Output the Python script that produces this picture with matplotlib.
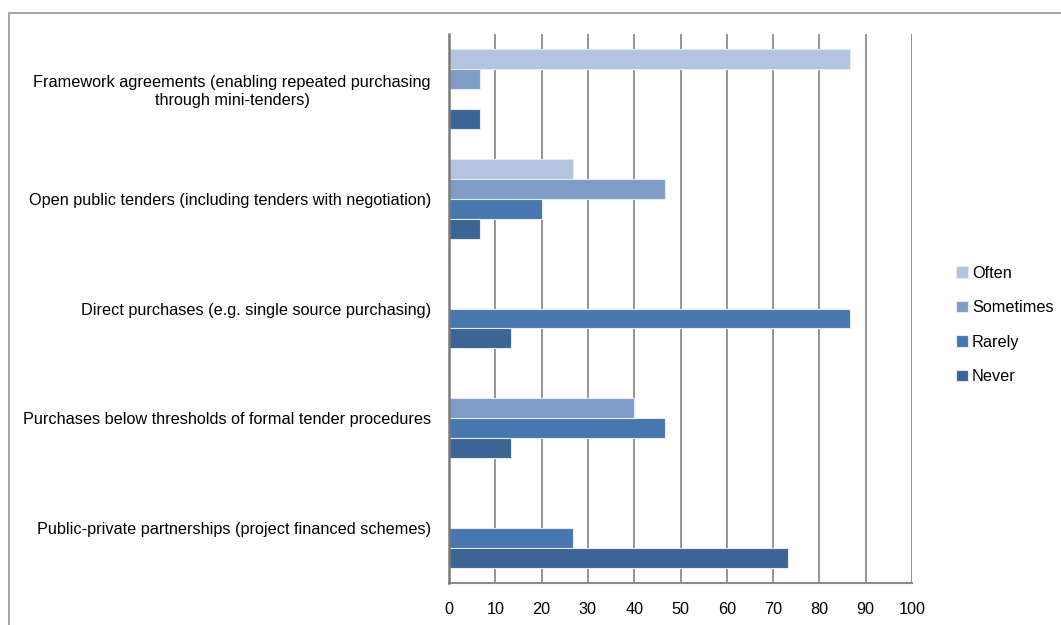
import numpy as np
import matplotlib
matplotlib.use("Agg")
import matplotlib.pyplot as plt
from matplotlib.patches import Rectangle

plt.rcParams['font.family'] = ['Liberation Sans', 'DejaVu Sans']

categories = [
    "Framework agreements (enabling repeated purchasing\nthrough mini-tenders)",
    "Open public tenders (including tenders with negotiation)",
    "Direct purchases (e.g. single source purchasing)",
    "Purchases below thresholds of formal tender procedures",
    "Public-private partnerships (project financed schemes)",
]
series = ["Often", "Sometimes", "Rarely", "Never"]
often = [86.7, 26.7, 0, 0, 0]
sometimes = [6.7, 46.7, 0, 40.0, 0]
rarely = [0, 20.0, 86.7, 46.7, 26.7]
never = [6.7, 6.7, 13.3, 13.3, 73.3]
values = [often, sometimes, rarely, never]
colors = ["#b4c3de", "#7f9cc7", "#4877b0", "#3c6494"]

fig = plt.figure(figsize=(10.61, 6.25), dpi=100)
ax = fig.add_axes([0.4232, 0.0672, 0.4364, 0.8784])

y = np.arange(len(categories))
h = 0.182
for i, (name, vals, c) in enumerate(zip(series, values, colors)):
    ax.barh(y + (i - 1.5) * h, vals, height=h, color=c, label=name,
            edgecolor="#e4e9f2", linewidth=0.8, zorder=3)

ax.set_xlim(0, 100)
ax.set_ylim(len(categories) - 0.5, -0.5)
ax.set_xticks(range(0, 101, 10))
ax.set_yticks(y)
ax.set_yticklabels(categories, multialignment="center", fontsize=11.7)
ax.tick_params(axis="y", length=0, pad=13)
ax.tick_params(axis="x", length=0, pad=14, labelsize=11.7)
ax.grid(axis="x", color="#8c8c8c", linewidth=1.3, zorder=1)
for s in ["top", "right"]:
    ax.spines[s].set_visible(False)
ax.spines["left"].set_color("#7a7a7a")
ax.spines["left"].set_linewidth(1.8)
ax.spines["left"].set_zorder(4)
ax.spines["bottom"].set_color("#8c8c8c")
ax.spines["bottom"].set_linewidth(1.5)

handles, labels = ax.get_legend_handles_labels()
fig.legend(handles, labels, loc="upper left", bbox_to_anchor=(0.893, 0.588),
           frameon=False, fontsize=11.7, handlelength=0.75, handleheight=0.75,
           handletextpad=0.25, labelspacing=1.2, borderpad=0)

# outer chart border
fig.add_artist(Rectangle((9 / 1061, -0.1), 1.2, 1.1 - 12.5 / 625,
                         transform=fig.transFigure, fill=False,
                         edgecolor="#a0a0a0", linewidth=1.3))

fig.savefig("out.png", dpi=100)
